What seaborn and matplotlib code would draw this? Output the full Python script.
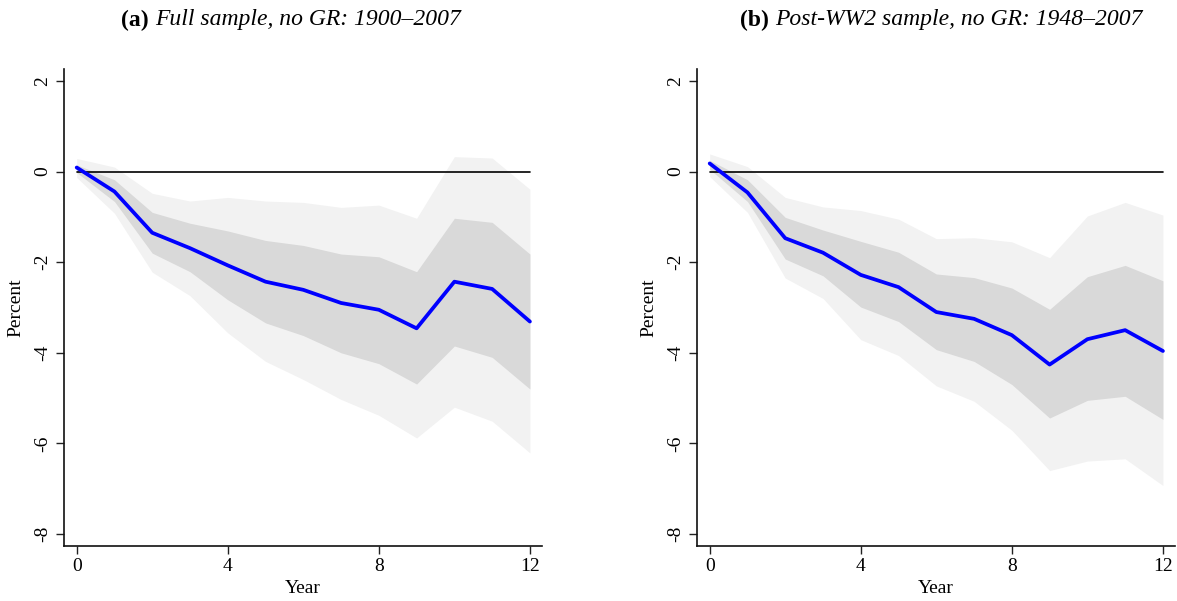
import numpy as np
import pandas as pd
import matplotlib
matplotlib.use("Agg")
import matplotlib.pyplot as plt
import seaborn as sns

years = list(range(13))

# Panel (a): Full sample, no GR: 1900-2007
a_mean = [0.09, -0.44, -1.35, -1.69, -2.07, -2.43, -2.61, -2.90, -3.05, -3.46, -2.43, -2.59, -3.31]
a_in_hi = [0.15, -0.18, -0.90, -1.14, -1.31, -1.52, -1.63, -1.82, -1.88, -2.21, -1.03, -1.12, -1.82]
a_in_lo = [-0.02, -0.66, -1.80, -2.21, -2.83, -3.34, -3.62, -4.00, -4.24, -4.69, -3.85, -4.10, -4.80]
a_out_hi = [0.29, 0.10, -0.48, -0.65, -0.57, -0.65, -0.68, -0.79, -0.74, -1.03, 0.33, 0.30, -0.39]
a_out_lo = [-0.13, -0.92, -2.22, -2.74, -3.56, -4.19, -4.59, -5.03, -5.38, -5.88, -5.20, -5.51, -6.21]

# Panel (b): Post-WW2 sample, no GR: 1948-2007
b_mean = [0.18, -0.46, -1.47, -1.79, -2.28, -2.55, -3.10, -3.25, -3.61, -4.26, -3.70, -3.50, -3.96]
b_in_hi = [0.25, -0.18, -1.01, -1.29, -1.54, -1.78, -2.26, -2.34, -2.57, -3.04, -2.32, -2.07, -2.41]
b_in_lo = [0.05, -0.66, -1.93, -2.30, -2.99, -3.31, -3.93, -4.19, -4.70, -5.44, -5.05, -4.96, -5.47]
b_out_hi = [0.39, 0.11, -0.57, -0.78, -0.86, -1.05, -1.48, -1.46, -1.55, -1.90, -0.98, -0.68, -0.96]
b_out_lo = [-0.11, -0.90, -2.35, -2.80, -3.71, -4.06, -4.73, -5.07, -5.71, -6.60, -6.39, -6.34, -6.93]

titles = ["Full sample, no GR: 1900\u20132007", "Post-WW2 sample, no GR: 1948\u20132007"]
prefixes = ["(a)", "(b)"]
x_ticks = [0, 4, 8, 12]
y_ticks = [2, 0, -2, -4, -6, -8]

sns.set_style("ticks")
plt.rcParams["font.family"] = ["Liberation Serif", "DejaVu Serif"]
plt.rcParams["text.color"] = "black"
plt.rcParams["axes.labelcolor"] = "black"
plt.rcParams["xtick.color"] = "black"
plt.rcParams["ytick.color"] = "black"

fig = plt.figure(figsize=(11.77, 6.01), dpi=100)
axes = [fig.add_axes([64/1177, 55/601, 478/1177, 477/601]),
        fig.add_axes([697/1177, 55/601, 478/1177, 477/601])]

panels = [(a_mean, a_in_hi, a_in_lo, a_out_hi, a_out_lo),
          (b_mean, b_in_hi, b_in_lo, b_out_hi, b_out_lo)]

for ax, (mean, ihi, ilo, ohi, olo) in zip(axes, panels):
    ax.fill_between(years, olo, ohi, color="#f2f2f2", linewidth=0, zorder=1)
    ax.fill_between(years, ilo, ihi, color="#d9d9d9", linewidth=0, zorder=2)
    ax.plot([0, 12], [0, 0], color="black", linewidth=1.2, zorder=3)
    df = pd.DataFrame({"Year": years, "Percent": mean})
    sns.lineplot(data=df, x="Year", y="Percent", ax=ax, color="#0000ff",
                 linewidth=2.7, zorder=4)
    ax.set_xlim(-0.336, 12.32)
    ax.set_ylim(-8.265, 2.265)
    ax.set_xticks(x_ticks)
    ax.set_yticks(y_ticks)
    ax.set_xticklabels([str(t) for t in x_ticks], fontsize=14)
    ax.set_yticklabels([str(t) for t in y_ticks], fontsize=14, rotation=90, va="center")
    ax.tick_params(axis="both", direction="out", length=5.5, width=1.0, color="#222222")
    ax.tick_params(axis="y", pad=4)
    ax.tick_params(axis="x", pad=3)
    for s in ["top", "right"]:
        ax.spines[s].set_visible(False)
    for s in ["left", "bottom"]:
        ax.spines[s].set_linewidth(1.2)
        ax.spines[s].set_color("#111111")
    ax.set_xlabel("Year", fontsize=14, labelpad=4)
    ax.set_ylabel("Percent", fontsize=14, labelpad=7)

title_x = [291/1177, 941/1177]
title_y = 1 - 20/601
pairs = []
for tx, pre, t in zip(title_x, prefixes, titles):
    p = fig.text(tx, title_y, pre + " ", fontsize=17, fontweight="bold",
                 ha="right", va="center")
    b = fig.text(tx, title_y, t, fontsize=17, fontstyle="italic",
                 ha="left", va="center")
    pairs.append((p, b))

# center each bold-prefix + italic-title pair on its target x
fig.canvas.draw()
r = fig.canvas.get_renderer()
for (p, b), tx in zip(pairs, title_x):
    wp = p.get_window_extent(r).width / 1177
    wb = b.get_window_extent(r).width / 1177
    left = tx - (wp + wb) / 2
    p.set_x(left + wp)
    b.set_x(left + wp)

fig.savefig("out.png", dpi=100)
